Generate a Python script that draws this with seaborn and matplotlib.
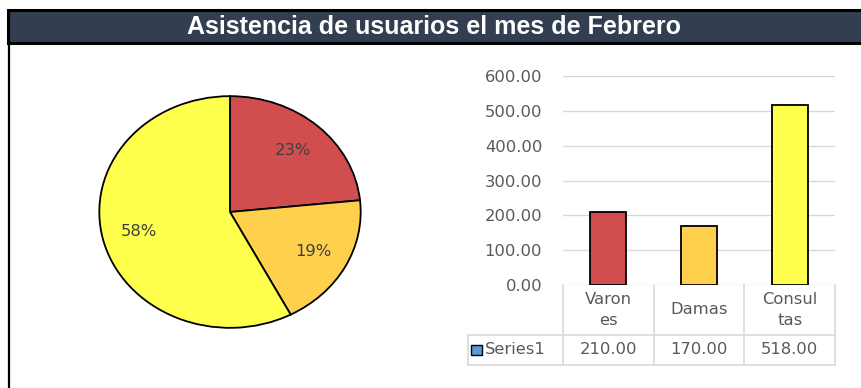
import matplotlib
matplotlib.use("Agg")
import matplotlib.pyplot as plt
from matplotlib.patches import Rectangle
from matplotlib.lines import Line2D
from matplotlib.ticker import FuncFormatter
import seaborn as sns

# Data
title = "Asistencia de usuarios el mes de Febrero"
categories = ["Varones", "Damas", "Consultas"]
category_labels = ["Varon\nes", "Damas", "Consul\ntas"]
values = [210, 170, 518]
series_name = "Series1"
colors = ["#D24E4E", "#FFD04C", "#FFFF4D"]
y_ticks = [0, 100, 200, 300, 400, 500, 600]

sns.set_theme(style="white")
plt.rcParams["font.family"] = ["DejaVu Sans"]

W, H = 862, 388
fig = plt.figure(figsize=(W / 100, H / 100), dpi=100)
fig.patch.set_facecolor("white")


def box(x0, y0, x1, y1):
    """Pixel box (top-left origin) -> figure fraction rect."""
    return [x0 / W, 1 - y1 / H, (x1 - x0) / W, (y1 - y0) / H]


text_color = "#595959"
fs = 11.8

# Title band and outer frame
fig.add_artist(Rectangle((8 / W, 1 - 43 / H), (W - 8) / W + 0.01, 33 / H,
                         transform=fig.transFigure, facecolor="#333F50",
                         edgecolor="black", linewidth=2.2, clip_on=False))
fig.add_artist(Line2D([9 / W, 9 / W], [0, 1 - 10 / H], transform=fig.transFigure,
                      color="black", linewidth=1.6))
fig.text(434 / W, 1 - 27 / H, title, ha="center", va="center", color="white",
         fontsize=18, fontweight="bold", family="Liberation Sans")

# Pie chart (elliptical)
ax_pie = fig.add_axes(box(98, 95, 362, 329))
wedges, texts, autotexts = ax_pie.pie(
    values, colors=colors, startangle=90, counterclock=False,
    autopct="%1.0f%%", pctdistance=0.72, radius=1,
    wedgeprops=dict(edgecolor="black", linewidth=1.3),
    textprops=dict(color="#404040", fontsize=fs))
ax_pie.set_aspect("auto")
ax_pie.set_xlim(-1.01, 1.01)
ax_pie.set_ylim(-1.01, 1.01)
ax_pie.axis("off")

# Bar chart
ax = fig.add_axes(box(563, 76, 835, 285))
sns.barplot(x=categories, y=values, hue=categories, palette=colors, legend=False,
            width=0.4, edgecolor="black", linewidth=1.3, saturation=1, ax=ax)
ax.set_xlim(-0.5, 2.5)
ax.set_ylim(0, 600)
ax.set_yticks(y_ticks)
ax.yaxis.set_major_formatter(FuncFormatter(lambda v, p: f"{v:.2f}"))
ax.yaxis.grid(True, color="#D9D9D9", linewidth=1)
ax.set_axisbelow(True)
for s in ax.spines.values():
    s.set_visible(False)
ax.tick_params(axis="y", length=0, pad=15, labelsize=fs, labelcolor=text_color)
ax.set_xticks([])
ax.set_xlabel("")
ax.set_ylabel("")

# Data table under the bars
tr = ax.get_xaxis_transform()
grid_kw = dict(transform=tr, color="#D9D9D9", linewidth=1.2, clip_on=False)
y_row1 = -50 / 209
y_row2 = -80 / 209
x_left = -0.5 - 95 / (272 / 3)
for xb in [-0.5, 0.5, 1.5, 2.5]:
    ax.add_line(Line2D([xb, xb], [0, y_row2], **grid_kw))
ax.add_line(Line2D([x_left, x_left], [y_row1, y_row2], **grid_kw))
ax.add_line(Line2D([x_left, 2.5], [y_row1, y_row1], **grid_kw))
ax.add_line(Line2D([x_left, 2.5], [y_row2, y_row2], **grid_kw))

for i, (lab, v) in enumerate(zip(category_labels, values)):
    ax.text(i, -25 / 209, lab, transform=tr, ha="center", va="center",
            fontsize=fs, color=text_color, linespacing=1.5)
    ax.text(i, -65 / 209, f"{v:.2f}", transform=tr, ha="center", va="center",
            fontsize=fs, color=text_color)

px = 272 / 3
ax.add_patch(Rectangle((x_left + 3 / px, -70 / 209), 11 / px, 10 / 209,
                       transform=tr, facecolor="#5B9BD5", edgecolor="black",
                       linewidth=1.0, clip_on=False))
ax.text(x_left + 17 / px, -65 / 209, series_name, transform=tr, ha="left",
        va="center", fontsize=fs, color=text_color)

fig.savefig("out.png", dpi=100, facecolor="white")
